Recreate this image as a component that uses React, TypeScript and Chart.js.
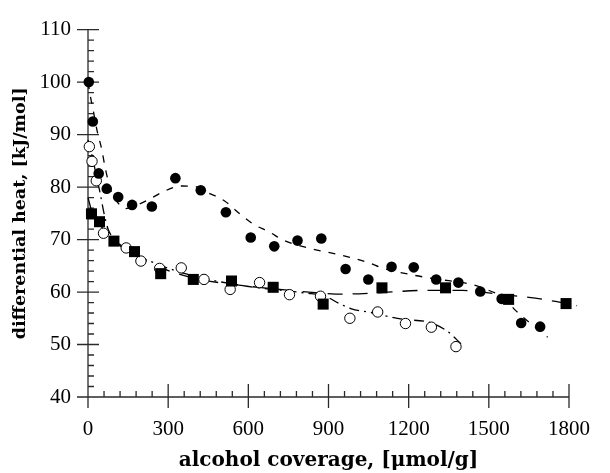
import React, { useEffect, useRef } from 'react';
import { Chart, registerables } from 'chart.js';

Chart.register(...registerables);

// Axis ticks
const xTickValues = [0, 300, 600, 900, 1200, 1500, 1800];
const yTickValues = [40, 50, 60, 70, 80, 90, 100, 110];
const xMinorStep = 60;
const yMinorStep = 2;

// Filled circles
const filledCircleX = [3, 18, 40, 70, 113, 165, 239, 327, 422, 516, 609, 697, 784, 873, 964, 1049, 1136, 1219, 1303, 1386, 1468, 1548, 1621, 1692];
const filledCircleY = [100, 92.5, 82.6, 79.7, 78.1, 76.6, 76.3, 81.7, 79.4, 75.2, 70.4, 68.7, 69.8, 70.2, 64.4, 62.4, 64.8, 64.7, 62.4, 61.8, 60.1, 58.7, 54.1, 53.4];

// Filled squares
const squareX = [13, 43, 97, 174, 272, 394, 537, 693, 880, 1100, 1338, 1574, 1789];
const squareY = [74.9, 73.4, 69.7, 67.7, 63.5, 62.4, 62.1, 60.9, 57.7, 60.8, 60.8, 58.6, 57.8];

// Open circles
const openCircleX = [5, 15, 31, 58, 143, 198, 268, 349, 434, 532, 642, 754, 870, 980, 1084, 1188, 1285, 1377];
const openCircleY = [87.7, 84.9, 81.2, 71.2, 68.4, 65.9, 64.5, 64.6, 62.4, 60.5, 61.8, 59.5, 59.2, 55.0, 56.2, 54.0, 53.3, 49.6];

// Fit curves
const filledFitX = [0, 10, 20, 35, 50, 65, 85, 112, 140, 180, 230, 285, 350, 400, 450, 510, 570, 620, 680, 730, 840, 950, 1050, 1100, 1220, 1300, 1440, 1510, 1555, 1600, 1720];
const filledFitY = [100, 97, 94.5, 90.5, 87.5, 83.5, 79.5, 77, 75.9, 76.5, 77.7, 79.2, 80.2, 80.1, 78.9, 77.4, 74.8, 72.9, 71.4, 69.9, 68.2, 67, 65.6, 64.6, 63.2, 62.5, 61.4, 60.1, 59, 56.5, 51.4];

const squareFitX = [0, 13, 43, 90, 170, 270, 400, 550, 700, 850, 950, 1100, 1250, 1400, 1550, 1650, 1750, 1830];
const squareFitY = [78, 75.6, 73, 70, 67.3, 64.7, 62.6, 61.4, 60.6, 59.9, 59.6, 59.9, 60.3, 60.3, 59.5, 59, 58.2, 57.4];

const openFitX = [0, 15, 30, 46, 60, 75, 100, 150, 250, 400, 595, 815, 888, 937, 986, 1059, 1108, 1181, 1279, 1340, 1401];
const openFitY = [89, 86, 82.5, 78.7, 75, 72, 70, 68, 65.5, 63, 61.1, 59.8, 59.2, 57.9, 56.8, 56.1, 55.5, 54.8, 54.2, 52.7, 49.9];

const toPts = (xs: number[], ys: number[]) => xs.map((x, i) => ({ x, y: ys[i] }));

const axesPlugin = {
  id: 'customAxes',
  beforeDatasetsDraw(chart: any) {
    const { ctx, scales } = chart;
    const xs = scales.x;
    const ys = scales.y;
    const x0 = xs.getPixelForValue(xTickValues[0]);
    const y0 = ys.getPixelForValue(yTickValues[0]);
    const xEnd = xs.getPixelForValue(xTickValues[xTickValues.length - 1]);
    const yEnd = ys.getPixelForValue(yTickValues[yTickValues.length - 1]);
    ctx.save();
    ctx.strokeStyle = '#2a2a2a';
    ctx.lineWidth = 1.3;
    ctx.beginPath();
    ctx.moveTo(x0, yEnd);
    ctx.lineTo(x0, y0);
    ctx.lineTo(xEnd, y0);
    yTickValues.forEach((v) => {
      const p = ys.getPixelForValue(v);
      ctx.moveTo(x0 - 11, p);
      ctx.lineTo(x0 + 11, p);
    });
    for (let v = yTickValues[0]; v <= yTickValues[yTickValues.length - 1]; v += yMinorStep) {
      if (yTickValues.includes(v)) continue;
      const p = ys.getPixelForValue(v);
      ctx.moveTo(x0, p);
      ctx.lineTo(x0 + 6, p);
    }
    xTickValues.forEach((v) => {
      const p = xs.getPixelForValue(v);
      ctx.moveTo(p, y0 + 11);
      ctx.lineTo(p, y0 - 13);
    });
    for (let v = xTickValues[0]; v <= xTickValues[xTickValues.length - 1]; v += xMinorStep) {
      if (xTickValues.includes(v)) continue;
      const p = xs.getPixelForValue(v);
      ctx.moveTo(p, y0);
      ctx.lineTo(p, y0 - 6);
    }
    ctx.stroke();
    ctx.restore();
  },
};

const tickFont = { family: "'Liberation Serif', serif", size: 21 };

export default function App() {
  const ref = useRef<HTMLCanvasElement>(null);
  useEffect(() => {
    const fitBase = {
      showLine: true,
      pointRadius: 0,
      borderColor: '#000',
      borderWidth: 1.3,
      cubicInterpolationMode: 'monotone' as const,
      fill: false,
      clip: false as any,
    };
    const chart = new Chart(ref.current!, {
      type: 'scatter',
      data: {
        datasets: [
          {
            label: 'filled circles',
            data: toPts(filledCircleX, filledCircleY),
            pointStyle: 'circle',
            pointRadius: 5.3,
            backgroundColor: '#000',
            borderColor: '#000',
            borderWidth: 0,
            clip: false as any,
          },
          {
            label: 'squares',
            data: toPts(squareX, squareY),
            pointStyle: 'rect',
            pointRadius: 7.8,
            backgroundColor: '#000',
            borderColor: '#000',
            borderWidth: 0,
            clip: false as any,
          },
          {
            label: 'open circles',
            data: toPts(openCircleX, openCircleY),
            pointStyle: 'circle',
            pointRadius: 5.2,
            backgroundColor: '#fff',
            borderColor: '#000',
            borderWidth: 1,
            clip: false as any,
          },
          { ...fitBase, label: 'fit filled', data: toPts(filledFitX, filledFitY), borderDash: [7, 8] },
          { ...fitBase, label: 'fit squares', data: toPts(squareFitX, squareFitY), borderDash: [15, 10] },
          { ...fitBase, label: 'fit open', data: toPts(openFitX, openFitY), borderDash: [10, 5, 2, 5] },
        ],
      },
      options: {
        animation: false,
        responsive: true,
        maintainAspectRatio: false,
        layout: { padding: { top: 19, right: 31, left: 0, bottom: 0 } },
        plugins: { legend: { display: false }, tooltip: { enabled: false } },
        events: [],
        scales: {
          x: {
            type: 'linear',
            min: xTickValues[0],
            max: xTickValues[xTickValues.length - 1],
            afterBuildTicks: (s: any) => {
              s.ticks = xTickValues.map((v) => ({ value: v }));
            },
            afterFit: (s: any) => {
              s.height = 76;
            },
            grid: { display: false, drawTicks: false },
            border: { display: false },
            ticks: {
              padding: 20,
              maxRotation: 0,
              autoSkip: false,
              color: '#000',
              font: tickFont,
              callback: (v: any) => String(v),
            },
            title: {
              display: true,
              text: 'alcohol coverage, [μmol/g]',
              color: '#000',
              padding: { top: 0, bottom: 0 },
              font: { family: "'DejaVu Serif', serif", size: 20, weight: 'bold' },
            },
          },
          y: {
            type: 'linear',
            min: yTickValues[0],
            max: yTickValues[yTickValues.length - 1],
            afterBuildTicks: (s: any) => {
              s.ticks = yTickValues.map((v) => ({ value: v }));
            },
            afterFit: (s: any) => {
              s.width = 88;
            },
            grid: { display: false, drawTicks: false },
            border: { display: false },
            ticks: {
              padding: 17,
              autoSkip: false,
              color: '#000',
              font: tickFont,
              callback: (v: any) => String(v),
            },
            title: {
              display: true,
              text: 'differential heat, [kJ/mol]',
              color: '#000',
              padding: { top: 9.5, bottom: 0 },
              font: { family: "'DejaVu Serif', serif", size: 17.5, weight: 'bold' },
            },
          },
        },
      },
      plugins: [axesPlugin],
    });
    return () => chart.destroy();
  }, []);
  return (
    <div style={{ position: 'absolute', left: 0, top: 0, width: 610, height: 473, background: '#fff' }}>
      <canvas ref={ref} />
    </div>
  );
}
